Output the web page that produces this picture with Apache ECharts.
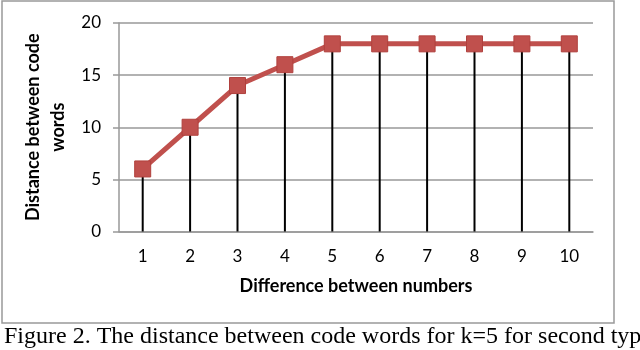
<!DOCTYPE html>
<html>
<head>
<meta charset="utf-8">
<script src="https://cdn.jsdelivr.net/npm/echarts@6/dist/echarts.min.js"></script>
<style>
  html, body { margin: 0; padding: 0; background: #fff; }
  #main { width: 640px; height: 350px; }
</style>
</head>
<body>
<div id="main"></div>
<script>
var categories = ['1', '2', '3', '4', '5', '6', '7', '8', '9', '10'];
var distances = [6, 10, 14, 16, 18, 18, 18, 18, 18, 18];
var caption = 'Figure 2. The distance between code words for k=5 for second type';

var chart = echarts.init(document.getElementById('main'));
var font = 'Lato';

var option = {
  animation: false,
  backgroundColor: '#fff',
  grid: { left: 119, right: 47, top: 23, bottom: 118.5 },
  xAxis: {
    type: 'category',
    data: categories,
    boundaryGap: true,
    name: 'Difference between numbers',
    nameLocation: 'middle',
    nameGap: 46,
    nameTextStyle: { fontFamily: font, fontWeight: 'bold', fontSize: 18, color: '#000' },
    axisLine: { lineStyle: { color: '#999', width: 1.5 } },
    axisTick: { show: false },
    axisLabel: { fontFamily: font, fontSize: 17, color: '#000', margin: 17 }
  },
  yAxis: {
    type: 'value',
    min: 0,
    max: 20,
    interval: 5,
    name: 'Distance between code\nwords',
    nameLocation: 'middle',
    nameGap: 44,
    nameTextStyle: { fontFamily: font, fontWeight: 'bold', fontSize: 18, color: '#000', lineHeight: 25 },
    axisLine: { show: true, lineStyle: { color: '#999', width: 1.5 } },
    axisTick: { show: true, length: 6, lineStyle: { color: '#999', width: 1.5 } },
    axisLabel: { fontFamily: font, fontSize: 17, color: '#000', margin: 18 },
    splitLine: { lineStyle: { color: '#999', width: 1.5 } }
  },
  graphic: [
    {
      type: 'rect',
      shape: { x: 2, y: 1, width: 612, height: 322 },
      style: { fill: null, stroke: '#999', lineWidth: 1.5 },
      z: 0
    },
    {
      type: 'text',
      left: 4,
      top: 325,
      style: { text: caption, font: '24px "Liberation Serif"', fill: '#000' }
    }
  ],
  series: [
    {
      name: 'drop',
      type: 'bar',
      data: distances,
      barWidth: 2,
      itemStyle: { color: '#000' },
      z: 2
    },
    {
      name: 'distance',
      type: 'line',
      data: distances,
      symbol: 'rect',
      symbolSize: 16,
      lineStyle: { color: '#C0504D', width: 5 },
      itemStyle: { color: '#C0504D', borderColor: '#B0403D', borderWidth: 1 },
      z: 3
    }
  ]
};
chart.setOption(option);
</script>
</body>
</html>
